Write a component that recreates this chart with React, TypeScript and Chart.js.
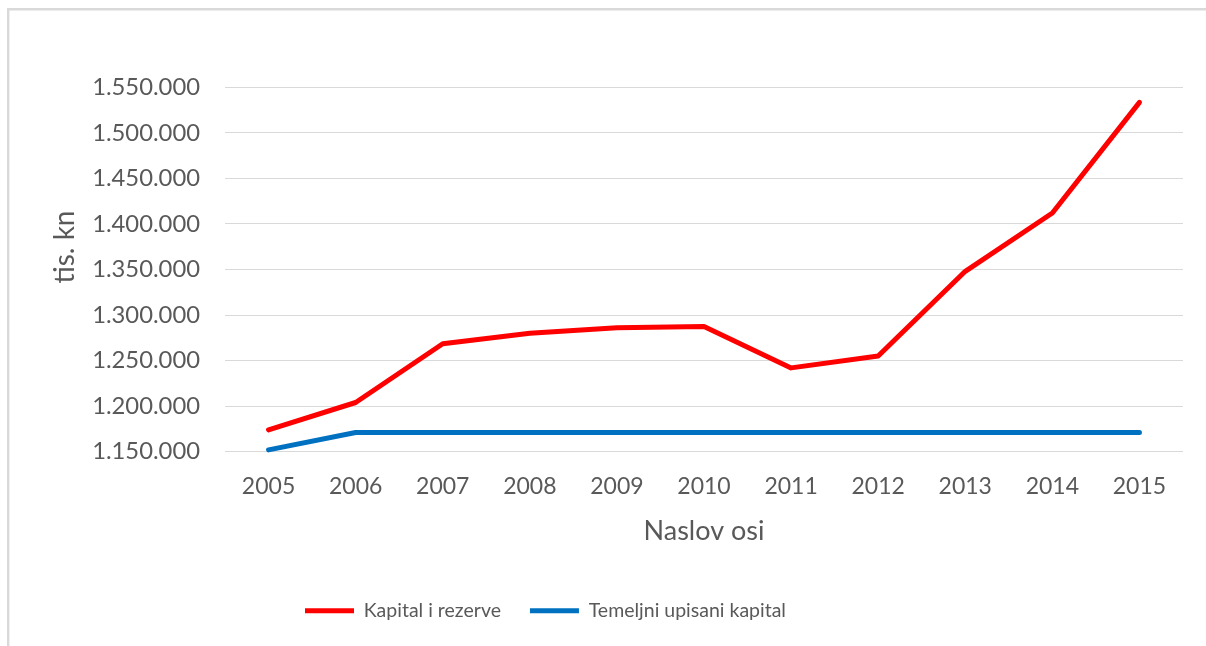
import React, { useEffect, useRef } from 'react';
import { Chart, registerables } from 'chart.js';

Chart.register(...registerables);

// ---- data ----
const years = ['2005', '2006', '2007', '2008', '2009', '2010', '2011', '2012', '2013', '2014', '2015'];
const kapitalIRezerve = [1174000, 1204000, 1268500, 1280000, 1286000, 1287500, 1242000, 1255000, 1348000, 1412000, 1533500];
const temeljniUpisaniKapital = [1152000, 1171000, 1171000, 1171000, 1171000, 1171000, 1171000, 1171000, 1171000, 1171000, 1171000];
const seriesNames = ['Kapital i rezerve', 'Temeljni upisani kapital'];
const seriesColors = ['#FF0000', '#0070C0'];
const yMin = 1150000;
const yMax = 1550000;
const yStep = 50000;
const xAxisTitle = 'Naslov osi';
const yAxisTitle = 'tis. kn';

const FONT = 'Lato, "Noto Sans", sans-serif';
const TEXT = '#595959';
const GRID = '#d9d9d9';
const LEGEND_FONT = 19.5;

function fmt(v: number): string {
  return String(Math.round(v)).replace(/\B(?=(\d{3})+(?!\d))/g, '.');
}

const framePlugin = {
  id: 'frame',
  beforeDraw(chart: any) {
    const { ctx, width, height } = chart;
    ctx.save();
    ctx.fillStyle = '#ffffff';
    ctx.fillRect(0, 0, width, height);
    ctx.strokeStyle = '#d9d9d9';
    ctx.lineWidth = 2.4;
    ctx.beginPath();
    ctx.moveTo(8.2, height);
    ctx.lineTo(8.2, 9.2);
    ctx.lineTo(width, 9.2);
    ctx.stroke();
    ctx.restore();
  },
};

const placementPlugin = {
  id: 'placement',
  afterLayout(chart: any) {
    const y = chart.scales.y;
    if (y) {
      const shift = 22.5;
      y.top -= shift;
      y.bottom -= shift;
    }
    const lg = chart.legend;
    if (lg) {
      const pad = lg.options.labels.padding;
      const h = lg.height;
      lg.left = 305 - pad;
      lg.right = chart.width;
      lg.width = lg.right - lg.left;
      lg.top = 610.7 - pad - LEGEND_FONT / 2;
      lg.bottom = lg.top + h;
    }
  },
};

export default function App() {
  const canvasRef = useRef<HTMLCanvasElement | null>(null);

  useEffect(() => {
    if (!canvasRef.current) return;
    Chart.defaults.font.family = FONT;
    Chart.defaults.color = TEXT;
    const datasets = [kapitalIRezerve, temeljniUpisaniKapital].map((d, i) => ({
      label: seriesNames[i],
      data: d,
      borderColor: seriesColors[i],
      backgroundColor: seriesColors[i],
      borderWidth: 5,
      borderCapStyle: 'round' as const,
      borderJoinStyle: 'round' as const,
      pointRadius: 0,
      pointHoverRadius: 0,
      fill: false,
      tension: 0,
      clip: false as const,
    }));
    const chart = new Chart(canvasRef.current, {
      type: 'line',
      data: { labels: years, datasets },
      plugins: [framePlugin, placementPlugin],
      options: {
        animation: false,
        responsive: true,
        maintainAspectRatio: false,
        devicePixelRatio: 1,
        layout: { padding: { left: 10, right: 23, top: 87.3, bottom: 40.3 } },
        plugins: {
          legend: {
            position: 'bottom',
            align: 'start',
            labels: {
              usePointStyle: true,
              pointStyle: 'line',
              pointStyleWidth: 49,
              padding: 29,
              color: TEXT,
              font: { family: FONT, size: LEGEND_FONT },
            },
          },
          tooltip: { enabled: false },
        },
        scales: {
          x: {
            offset: true,
            grid: { display: false, drawTicks: false },
            border: { display: false },
            ticks: { color: TEXT, font: { family: FONT, size: 23 }, padding: 21, maxRotation: 0, autoSkip: false },
            title: {
              display: true,
              text: xAxisTitle,
              color: TEXT,
              font: { family: FONT, size: 27 },
              padding: { top: 0, bottom: 0 },
            },
            afterFit(s: any) {
              s.height = 95.5;
            },
          },
          y: {
            min: yMin,
            max: yMax,
            grid: { color: GRID, lineWidth: 1, drawTicks: false },
            border: { display: false },
            ticks: {
              stepSize: yStep,
              padding: 25,
              color: TEXT,
              font: { family: FONT, size: 23.8 },
              callback: (v: any) => fmt(Number(v)),
            },
            title: {
              display: true,
              text: yAxisTitle,
              color: TEXT,
              font: { family: FONT, size: 28 },
              padding: { top: 38.2, bottom: 0 },
            },
            afterFit(s: any) {
              s.width = 215;
            },
          },
        },
      },
    } as any);
    return () => chart.destroy();
  }, []);

  return (
    <div style={{ position: 'fixed', left: 0, top: 0, width: 1206, height: 646, background: '#fff' }}>
      <canvas ref={canvasRef} />
    </div>
  );
}
